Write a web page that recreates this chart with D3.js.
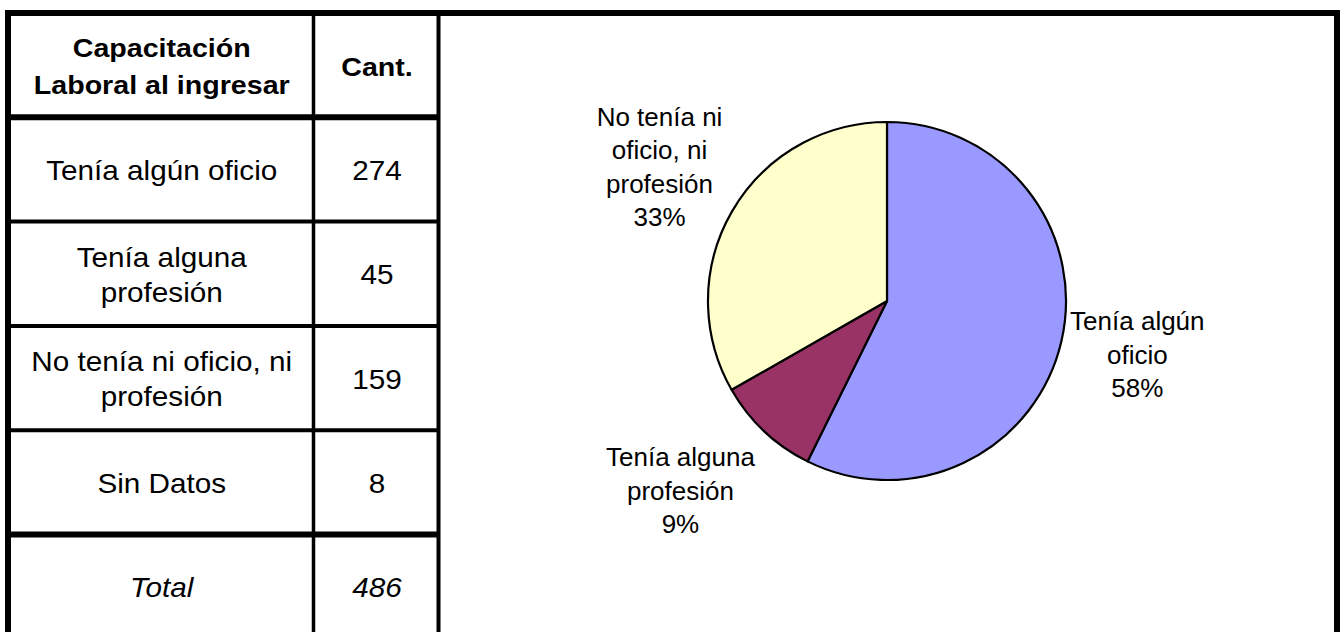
<!DOCTYPE html>
<html>
<head>
<meta charset="utf-8">
<script src="https://cdn.jsdelivr.net/npm/d3@7"></script>
<style>
  body { margin: 0; background: #fff; }
  svg { display: block; font-family: "Liberation Sans", Arial, sans-serif; }
</style>
</head>
<body>
<script>
var w = 1342;
var h = 632;

/* table data */
var headers = [["Capacitación", "Laboral al ingresar"], ["Cant."]];
var categories = [["Tenía algún oficio"], ["Tenía alguna", "profesión"], ["No tenía ni oficio, ni", "profesión"], ["Sin Datos"]];
var counts = [274, 45, 159, 8];
var totalLabel = "Total";

/* pie data - "Sin Datos" is not part of the pie */
var pieNames = [["Tenía algún", "oficio"], ["Tenía alguna", "profesión"], ["No tenía ni", "oficio, ni", "profesión"]];
var pieValues = [274, 45, 159];
var piePercents = ["58%", "9%", "33%"];
var pieColors = ["#9999FF", "#993366", "#FFFFCC"];

var svg = d3.select("body")
    .append("svg")
    .attr("width", w)
    .attr("height", h);

/* writes a centred block of lines, cy is the middle of the block */
function multiline(sel, lines, cx, cy, size, lh, sx, weight, style) {
    var t = sel.append("text")
        .attr("transform", "translate(" + cx + "," + (cy - (lines.length - 1) * lh / 2) + ") scale(" + sx + ",1)")
        .attr("text-anchor", "middle")
        .attr("font-size", size)
        .attr("font-weight", weight || "normal")
        .attr("font-style", style || "normal")
        .attr("fill", "#000");
    lines.forEach(function(l, i) {
        t.append("tspan").attr("x", 0).attr("y", i * lh).attr("dy", "0.36em").text(l);
    });
}

/* ---------- table ---------- */
var colLeft = 8, colMid = 313.5, colRight = 438.5;
var rowScale = d3.scaleBand()
    .domain(d3.range(categories.length + 2))
    .range([13, 13 + (categories.length + 2) * 104.3]);

var table = svg.append("g");

var rows = [{ label: headers[0], value: headers[1], bold: true }];
categories.forEach(function(c, i) {
    rows.push({ label: c, value: [String(counts[i])] });
});
rows.push({ label: [totalLabel], value: [String(d3.sum(counts))], italic: true });

rows.forEach(function(r, i) {
    var cy = rowScale(i) + rowScale.bandwidth() / 2 + 1;
    var size = r.bold ? 26 : 27;
    var sx = 1.1;
    var lh = r.bold ? 37 : 35;
    var wt = r.bold ? "bold" : "normal";
    var st = r.italic ? "italic" : "normal";
    multiline(table, r.label, (colLeft + colMid) / 2 + 1, cy, size, lh, sx, wt, st);
    multiline(table, r.value, (colMid + colRight) / 2 + 1, cy, size, lh, sx, wt, st);
});

// horizontal rules, thick under the header and above the total
table.selectAll("line.row")
    .data(d3.range(1, rows.length))
    .enter()
    .append("line")
    .attr("x1", colLeft)
    .attr("x2", colRight)
    .attr("y1", function(i) { return rowScale(i); })
    .attr("y2", function(i) { return rowScale(i); })
    .attr("stroke", "#000")
    .attr("stroke-width", function(i) { return (i == 1 || i == rows.length - 1) ? 6 : 4; });

table.append("line")
    .attr("x1", colMid).attr("x2", colMid)
    .attr("y1", 13).attr("y2", h + 10)
    .attr("stroke", "#000").attr("stroke-width", 3.5);

table.append("line")
    .attr("x1", colRight).attr("x2", colRight)
    .attr("y1", 13).attr("y2", h + 10)
    .attr("stroke", "#000").attr("stroke-width", 4);

// outer frame
svg.append("rect")
    .attr("x", 8).attr("y", 13)
    .attr("width", 1329).attr("height", h + 40)
    .attr("fill", "none")
    .attr("stroke", "#000")
    .attr("stroke-width", 6);

/* ---------- pie ---------- */
var cx = 887, cy = 301, radius = 179;
// label distance from centre along each slice's middle angle, plus a small nudge
var labelDist = [254, 272, 263];
var labelShift = [[3, -4], [-20, -8], [0, -2]];

var pie = d3.pie().sort(null).value(function(d) { return d; });
var arc = d3.arc().innerRadius(0).outerRadius(radius);
var arcs = pie(pieValues);

var pg = svg.append("g").attr("transform", "translate(" + cx + "," + cy + ")");

pg.selectAll("path")
    .data(arcs)
    .enter()
    .append("path")
    .attr("d", arc)
    .attr("fill", function(d, i) { return pieColors[i]; })
    .attr("stroke", "#000")
    .attr("stroke-width", 2.2)
    .attr("stroke-linejoin", "round");

arcs.forEach(function(a, i) {
    var mid = (a.startAngle + a.endAngle) / 2;
    var lx = Math.sin(mid) * labelDist[i] + labelShift[i][0];
    var ly = -Math.cos(mid) * labelDist[i] + labelShift[i][1];
    multiline(pg, pieNames[i].concat([piePercents[i]]), lx, ly, 25, 33.5, 1.04);
});
</script>
</body>
</html>
